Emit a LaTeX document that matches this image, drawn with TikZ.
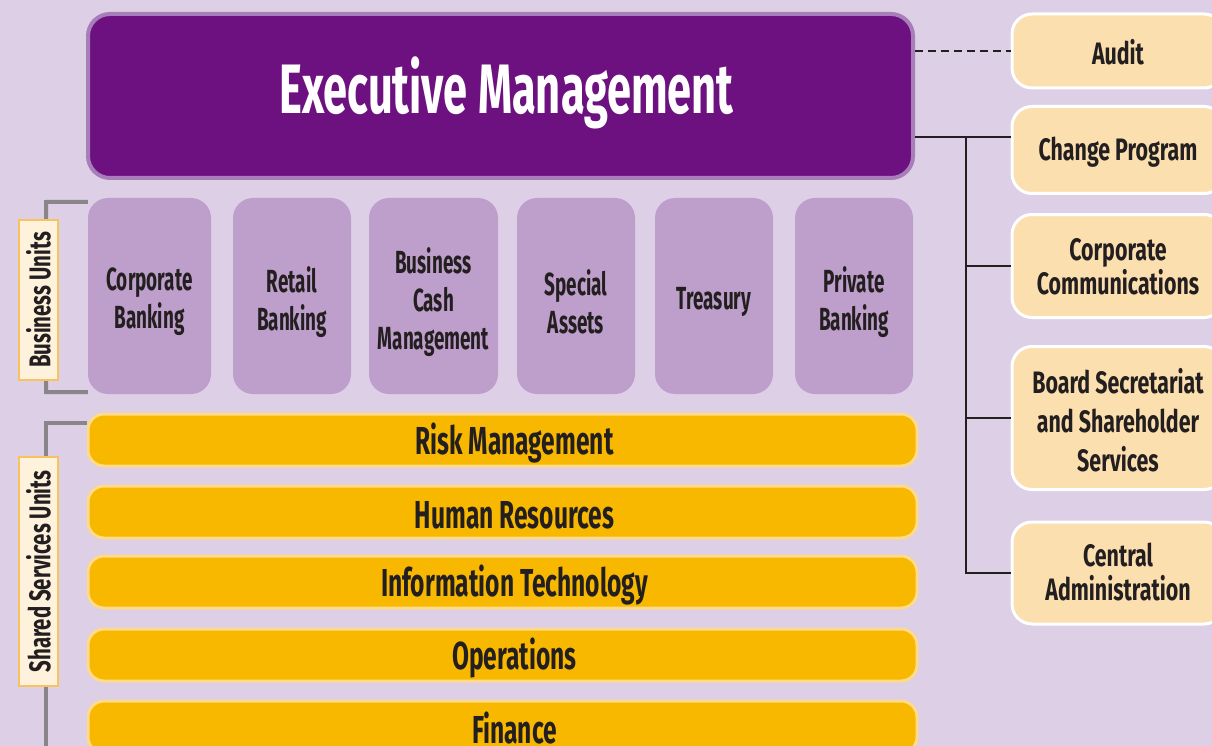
\documentclass[tikz,border=0pt]{standalone}
\usepackage{fontspec}
\newfontfamily\cfexec{Fira Sans}[FakeStretch=0.62]
\newfontfamily\cfunit{Fira Sans}[FakeStretch=0.59]
\newfontfamily\cfbar{Fira Sans}[FakeStretch=0.63]
\newfontfamily\cfside{Fira Sans}[FakeStretch=0.69]
\newfontfamily\cftag{Fira Sans}[FakeStretch=0.68]
\definecolor{bg}{HTML}{DCCFE6}
\definecolor{execfill}{HTML}{6E1180}
\definecolor{execring}{HTML}{A77DBA}
\definecolor{bufill}{HTML}{BE9ECA}
\definecolor{ssfill}{HTML}{F9B800}
\definecolor{ssring}{HTML}{FDDA8C}
\definecolor{sidefill}{HTML}{FCDFAE}
\definecolor{tagfill}{HTML}{FFF2DC}
\definecolor{tagring}{HTML}{F8C35F}
\definecolor{bracket}{HTML}{898589}
\definecolor{ink}{HTML}{231F20}
\tikzset{
  execbox/.style={draw=execring, line width=4pt, fill=execfill, rounded corners=22pt,
    minimum width=825pt, minimum height=164pt, inner sep=0pt},
  exectext/.style={text=white, inner sep=0pt, xshift=6pt, yshift=3pt,
    font=\cfexec\bfseries\fontsize{70}{78}\selectfont},
  unitbox/.style={fill=bufill, rounded corners=20pt,
    minimum width=118pt, minimum height=196pt, inner sep=0pt},
  unittext/.style={text=ink, align=center, inner sep=0pt, yshift=-6pt,
    font=\cfunit\bfseries\fontsize{32}{38}\selectfont},
  sharedbox/.style={draw=ssring, line width=3pt, fill=ssfill, rounded corners=16pt,
    minimum width=829pt, minimum height=52pt, inner sep=0pt},
  sstext/.style={text=ink, inner sep=0pt, xshift=12pt, yshift=-3pt,
    font=\cfbar\bfseries\fontsize{39}{42}\selectfont},
  sidebox/.style={draw=white, line width=3pt, fill=sidefill, rounded corners=20pt,
    minimum width=212pt, inner sep=0pt},
  sidetext/.style={text=ink, align=center, inner sep=0pt,
    font=\cfside\bfseries\fontsize{31}{34}\selectfont},
  tagbox/.style={draw=tagring, line width=2.5pt, fill=tagfill, rotate=90, text=ink,
    minimum height=39pt, inner sep=0pt, font=\cftag\bfseries\fontsize{30}{32}\selectfont},
  brk/.style={draw=bracket, line width=4pt},
  link/.style={draw=ink, line width=2.5pt},
}
\begin{document}
\begin{tikzpicture}[x=1pt,y=-1pt]
  \clip (0,0) rectangle (1212,746);
  \fill[bg] (0,0) rectangle (1212,746);

  % top management block
  \node[execbox, label={[exectext]center:Executive Management}] (exec) at (500.5,96) {};

  % business units
  \node[unitbox, minimum width=123pt, label={[unittext]center:Corporate\\Banking}] (bu1) at (149.5,296) {};
  \node[unitbox, label={[unittext]center:Retail\\Banking}] (bu2) at (292,296) {};
  \node[unitbox, minimum width=129pt, label={[unittext]center:Business\\Cash\\Management}] (bu3) at (433.5,296) {};
  \node[unitbox, label={[unittext]center:Special\\Assets}] (bu4) at (576,296) {};
  \node[unitbox, label={[unittext]center:Treasury}] (bu5) at (714,296) {};
  \node[unitbox, label={[unittext]center:Private\\Banking}] (bu6) at (854,296) {};

  % shared services
  \node[sharedbox, label={[sstext]center:Risk Management}] (ss1) at (502.5,440) {};
  \node[sharedbox, label={[sstext]center:Human Resources}] (ss2) at (502.5,512) {};
  \node[sharedbox, label={[sstext]center:Information Technology}] (ss3) at (502.5,582) {};
  \node[sharedbox, label={[sstext]center:Operations}] (ss4) at (502.5,655) {};
  \node[sharedbox, label={[sstext, yshift=2pt]center:Finance}] (ss5) at (502.5,727) {};

  % group labels with brackets
  \draw[brk] ([yshift=-4pt]bu1.north west) -- (46,202) -- (46,392) -- ([yshift=2pt]bu1.south west);
  \node[tagbox, minimum width=160pt] (tagbu) at (38.5,300) {Business Units};
  \draw[brk] (ss1.west |- 0,423) -- (46,423) -- (46,760);
  \node[tagbox, minimum width=229pt] (tagss) at (38.5,571.5) {Shared Services Units};

  % staff functions
  \node[sidebox, minimum height=74pt, label={[sidetext, yshift=-1pt]center:Audit}] (audit) at (1118,51) {};
  \node[sidebox, minimum height=87pt, label={[sidetext, yshift=-2pt]center:Change Program}] (change) at (1118,150) {};
  \node[sidebox, minimum height=103pt, label={[sidetext, yshift=-1pt]center:Corporate\\Communications}] (comm) at (1118,266) {};
  \node[sidebox, minimum height=143pt, label={[sidetext, yshift=-2pt, font=\cfside\bfseries\fontsize{31}{39}\selectfont]center:Board Secretariat\\and Shareholder\\Services}] (board) at (1118,418) {};
  \node[sidebox, minimum height=102pt, label={[sidetext, yshift=1pt]center:Central\\Administration}] (central) at (1118,573) {};

  % reporting lines
  \coordinate (trunk) at (966,137);
  \draw[link, dashed, dash pattern=on 8pt off 5pt] (exec.east |- audit.west) -- (audit.west);
  \draw[link] (exec.east |- trunk) -- (trunk -| change.west);
  \draw[link] (trunk) |- (central.west);
  \draw[link] (trunk |- comm.west) -- (comm.west);
  \draw[link] (trunk |- board.west) -- (board.west);
\end{tikzpicture}
\end{document}
